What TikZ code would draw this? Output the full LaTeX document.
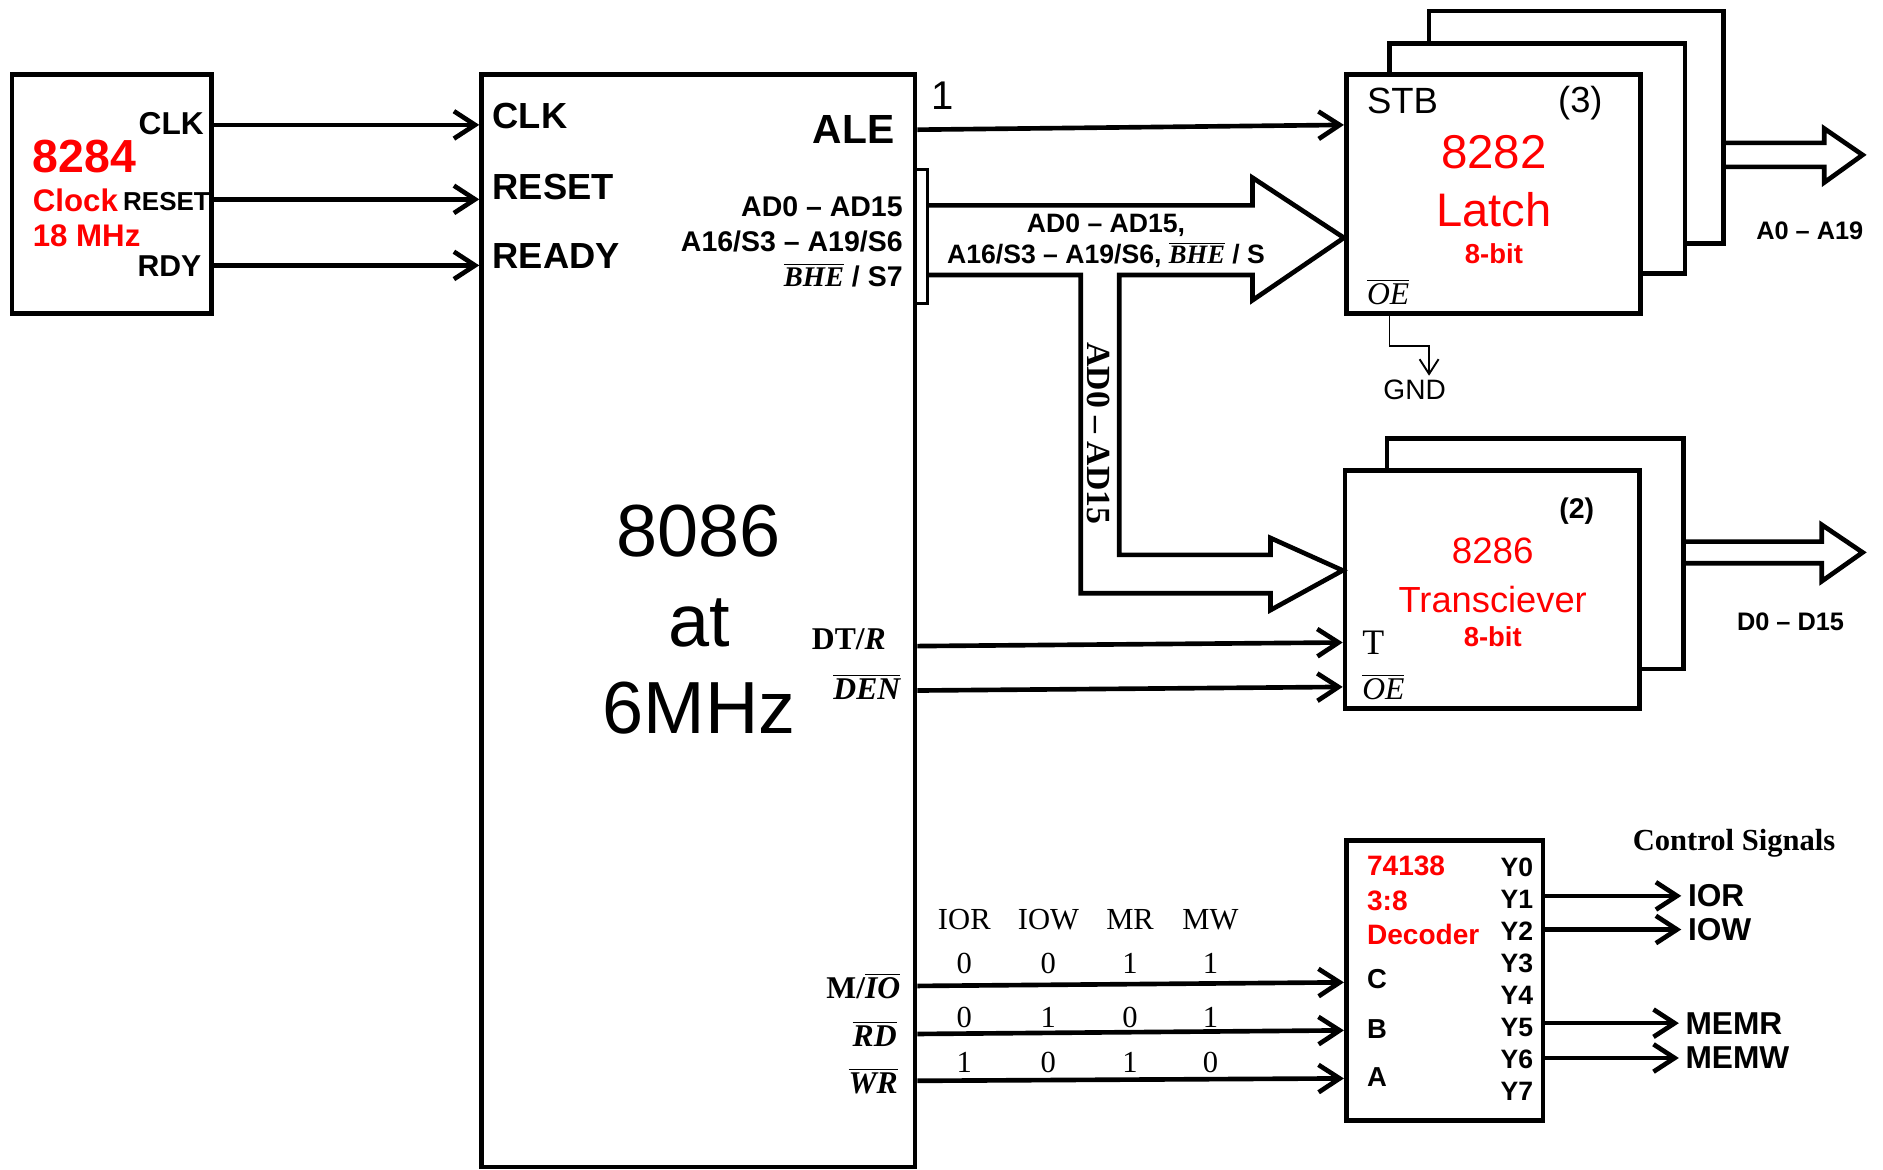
\documentclass[tikz,border=0pt]{standalone}
\usepackage{fontspec}
\setsansfont{Liberation Sans}
\renewcommand{\familydefault}{\sfdefault}
\newfontfamily\serfam{Liberation Serif}
\usetikzlibrary{arrows.meta}

\newcommand{\fsz}[1]{\fontsize{#1}{#1}\selectfont}
\newcommand{\bitov}[1]{$\overline{\hbox{\serfam\bfseries\itshape #1}}$}
\newcommand{\itov}[1]{$\overline{\hbox{\serfam\itshape #1}}$}

\begin{document}
\begin{tikzpicture}[x=0.02cm, y=-0.02cm,
    chip/.style={rectangle, draw=black, line width=2.2pt, fill=white, inner sep=0pt},
    sig/.style={line width=2.2pt, -{Straight Barb[length=10pt,width=13pt]}},
    bus/.style={line width=2.2pt, line join=miter},
    gndw/.style={line width=0.9pt, -{Straight Barb[length=7pt,width=9pt]}},
    pin/.style={font=\bfseries\fsz{14}, inner sep=0pt},
    redt/.style={text=red, inner sep=0pt},
    ser/.style={font=\serfam\fsz{14.5}, inner sep=0pt},
    mlab/.style={font=\serfam\bfseries\fsz{15}, inner sep=0pt, anchor=east}
]
\useasboundingbox (0,0) rectangle (1568,974);

% Chips
\node[chip, minimum width=3.32cm, minimum height=3.98cm] (clkgen) at (93,161.5) {};
\node[chip, minimum width=7.22cm, minimum height=18.2cm] (cpu) at (581.5,517) {};
\node[chip, minimum width=4.9cm, minimum height=3.88cm] (latchc) at (1312.5,106) {};
\node[chip, minimum width=4.92cm, minimum height=3.84cm] (latchb) at (1280,132) {};
\node[chip, minimum width=4.9cm, minimum height=3.98cm] (latcha) at (1243.5,161.5) {};
\node[chip, minimum width=4.94cm, minimum height=3.84cm] (transb) at (1278.5,461) {};
\node[chip, minimum width=4.9cm, minimum height=3.96cm] (transa) at (1242.5,491) {};
\node[chip, minimum width=3.28cm, minimum height=4.66cm] (dec) at (1203,816.5) {};
\node[chip, fill=none, line width=1.4pt, minimum width=0.2cm, minimum height=2.24cm] (brk) at (767,197) {};

% 8284 clock generator
\node[redt, font=\bfseries\fsz{22}, anchor=west] (n8284) at (27,130) {8284};
\node[redt, font=\bfseries\fsz{14.8}, anchor=west] (nclock) at (27,167) {Clock};
\node[redt, font=\bfseries\fsz{14.8}, anchor=west] (nmhz) at (27,196) {18 MHz};
\node[pin, font=\bfseries\fsz{15}, anchor=east] (oclk) at (170,103) {CLK};
\node[pin, font=\bfseries\fsz{12.3}, anchor=east] (orst) at (175,168) {RESET};
\node[pin, font=\bfseries\fsz{14.3}, anchor=east] (ordy) at (168,222) {RDY};

% 8086 pins
\node[pin, font=\bfseries\fsz{17.2}, anchor=west] (iclk) at (410,97) {CLK};
\node[pin, font=\bfseries\fsz{17.2}, anchor=west] (irst) at (410,156) {RESET};
\node[pin, font=\bfseries\fsz{17.2}, anchor=west] (irdy) at (410,213) {READY};
\node[pin, font=\bfseries\fsz{19.3}, anchor=east] (oale) at (745,108) {ALE};
\node[pin, font=\bfseries\fsz{13.5}, anchor=east] (oad) at (752,172) {AD0 – AD15};
\node[pin, font=\bfseries\fsz{13.5}, anchor=east] (oa16) at (752,201) {A16/S3 – A19/S6};
\node[pin, font=\bfseries\fsz{13.5}, anchor=east] (obhe) at (752,229) {\bitov{BHE} / S7};
\node[mlab] (odtr) at (738,532) {DT/\textit{R}};
\node[mlab] (oden) at (750,572) {\bitov{DEN}};
\node[mlab] (omio) at (750,821) {M/\bitov{IO}};
\node[mlab] (ord) at (747,861) {\bitov{RD}};
\node[mlab] (owr) at (748,900) {\bitov{WR}};

% 8086 name
\node[font=\fsz{35}, inner sep=0pt] (cpuname) at (582,442) {8086};
\node[font=\fsz{35}, inner sep=0pt] (cpuat) at (582,519) {at};
\node[font=\fsz{35}, inner sep=0pt] (cpufreq) at (582,590) {6MHz};

% 8282 latches
\node[font=\fsz{17.3}, inner sep=0pt, anchor=west] (stb) at (1138,84) {STB};
\node[font=\fsz{17.2}, inner sep=0pt] (cnt3) at (1316,86) {(3)};
\node[redt, font=\fsz{22.5}] (l8282) at (1244,127) {8282};
\node[redt, font=\fsz{22.3}] (llatch) at (1244,175) {Latch};
\node[redt, font=\bfseries\fsz{13}] (lbit) at (1244,211) {8-bit};
\node[ser, font=\serfam\fsz{15}, anchor=west] (loe) at (1138,243) {\itov{OE}};
\node[font=\fsz{13.3}, inner sep=0pt] (gnd) at (1178,325) {GND};

% 8286 transceivers
\node[font=\bfseries\fsz{13.5}, inner sep=0pt] (cnt2) at (1313,426) {(2)};
\node[redt, font=\fsz{17.4}] (t8286) at (1243,459) {8286};
\node[redt, font=\fsz{17.2}] (ttrans) at (1243,499) {Transciever};
\node[redt, font=\bfseries\fsz{13}] (tbit) at (1243,530) {8-bit};
\node[ser, font=\serfam\fsz{17}, anchor=west] (tt) at (1134,535) {T};
\node[ser, font=\serfam\fsz{15}, anchor=west] (toe) at (1134,572) {\itov{OE}};

% 74138 decoder
\node[redt, font=\bfseries\fsz{13.3}, anchor=west] (d74) at (1138,721) {74138};
\node[redt, font=\bfseries\fsz{13.3}, anchor=west] (d38) at (1138,750) {3:8};
\node[redt, font=\bfseries\fsz{13.3}, anchor=west] (ddec) at (1138,778) {Decoder};
\foreach \i in {0,...,7}
  \node[pin, font=\bfseries\fsz{12.6}, anchor=east] (y\i) at (1277,722+26.7*\i) {Y\i};
\node[pin, font=\bfseries\fsz{13}, anchor=west] (dc) at (1138,815) {C};
\node[pin, font=\bfseries\fsz{13}, anchor=west] (db) at (1138,857) {B};
\node[pin, font=\bfseries\fsz{13}, anchor=west] (da) at (1138,897) {A};
\node[font=\serfam\bfseries\fsz{14.5}, inner sep=0pt] (ctl) at (1444,702) {Control Signals};
\node[pin, font=\bfseries\fsz{15}, anchor=west, inner xsep=3pt] (sior) at (1400,746) {IOR};
\node[pin, font=\bfseries\fsz{15}, anchor=west, inner xsep=3pt] (siow) at (1400,774) {IOW};
\node[pin, font=\bfseries\fsz{15}, anchor=west, inner xsep=3pt] (smr) at (1398,852) {MEMR};
\node[pin, font=\bfseries\fsz{15}, anchor=west, inner xsep=3pt] (smw) at (1398,881) {MEMW};

% Truth table
\foreach \n/\x in {IOR/803, IOW/873, MR/941, MW/1008}
  \node[ser] (h\n) at (\x,766) {\n};
\foreach \x/\c/\b/\a [count=\k] in {803/0/0/1, 873/0/1/0, 941/1/0/1, 1008/1/1/0} {
  \node[ser] (vc\k) at (\x,802) {\c};
  \node[ser] (vb\k) at (\x,847) {\b};
  \node[ser] (va\k) at (\x,885) {\a};
}

% Bus labels
\node[font=\bfseries\fsz{12.6}, inner sep=0pt] (bl1) at (921,188) {AD0 – AD15,};
\node[font=\bfseries\fsz{12.6}, inner sep=0pt] (bl2) at (921,212) {A16/S3 – A19/S6, \bitov{BHE} / S};
\node[rotate=-90, font=\serfam\bfseries\fsz{16}, inner sep=0pt] (vlab) at (915,361) {AD0 – AD15};
\node[font=\bfseries\fsz{12}, inner sep=0pt] (abus) at (1507,192) {A0 – A19};
\node[font=\bfseries\fsz{12}, inner sep=0pt] (dbus) at (1491,518) {D0 – D15};
\node[font=\fsz{19}, inner sep=0pt] (one) at (785,80) {1};

% Clock lines
\draw[sig] (clkgen.east |- 0,104) -- (cpu.west |- 0,104);
\draw[sig] (clkgen.east |- 0,166) -- (cpu.west |- 0,166);
\draw[sig] (clkgen.east |- 0,221) -- (cpu.west |- 0,221);

% Control lines
\draw[sig] (cpu.east |- 0,108) -- (latcha.west |- 0,104);
\draw[sig] (cpu.east |- 0,538) -- (transa.west |- 0,535);
\draw[sig] (cpu.east |- 0,575) -- (transa.west |- 0,572);
\draw[sig] (cpu.east |- 0,821) -- (dec.west |- 0,818);
\draw[sig] (cpu.east |- 0,861) -- (dec.west |- 0,858);
\draw[sig] (cpu.east |- 0,900) -- (dec.west |- 0,898);

% Decoder outputs
\draw[sig] (dec.east |- sior) -- (sior.west);
\draw[sig] (dec.east |- siow) -- (siow.west);
\draw[sig] (dec.east |- smr) -- (smr.west);
\draw[sig] (dec.east |- smw) -- (smw.west);

% Address/data bus
\draw[bus] (brk.east |- 0,171) -- (1043,171) -- (1043,148) -- (latcha.west |- 0,198) -- (1043,250) -- (1043,229)
  -- (932,229) -- (932,462) -- (1058,462) -- (1058,448) -- (transa.west |- 0,475) -- (1058,508) -- (1058,494)
  -- (900,494) -- (900,229) -- (brk.east |- 0,229);
\draw[bus] (latchc.east |- 0,119) -- (1519,119) -- (1519,107) -- (1551,129) -- (1519,152) -- (1519,139) -- (latchc.east |- 0,139);
\draw[bus] (transb.east |- 0,451) -- (1517,451) -- (1517,437) -- (1551,460) -- (1517,484) -- (1517,469) -- (transb.east |- 0,469);

% OE to ground
\draw[gndw, shorten >=2pt] (latcha.south -| 1157,0) -- (1157,288) -- (1190,288) -- (gnd.north -| 1190,0);

\end{tikzpicture}
\end{document}
